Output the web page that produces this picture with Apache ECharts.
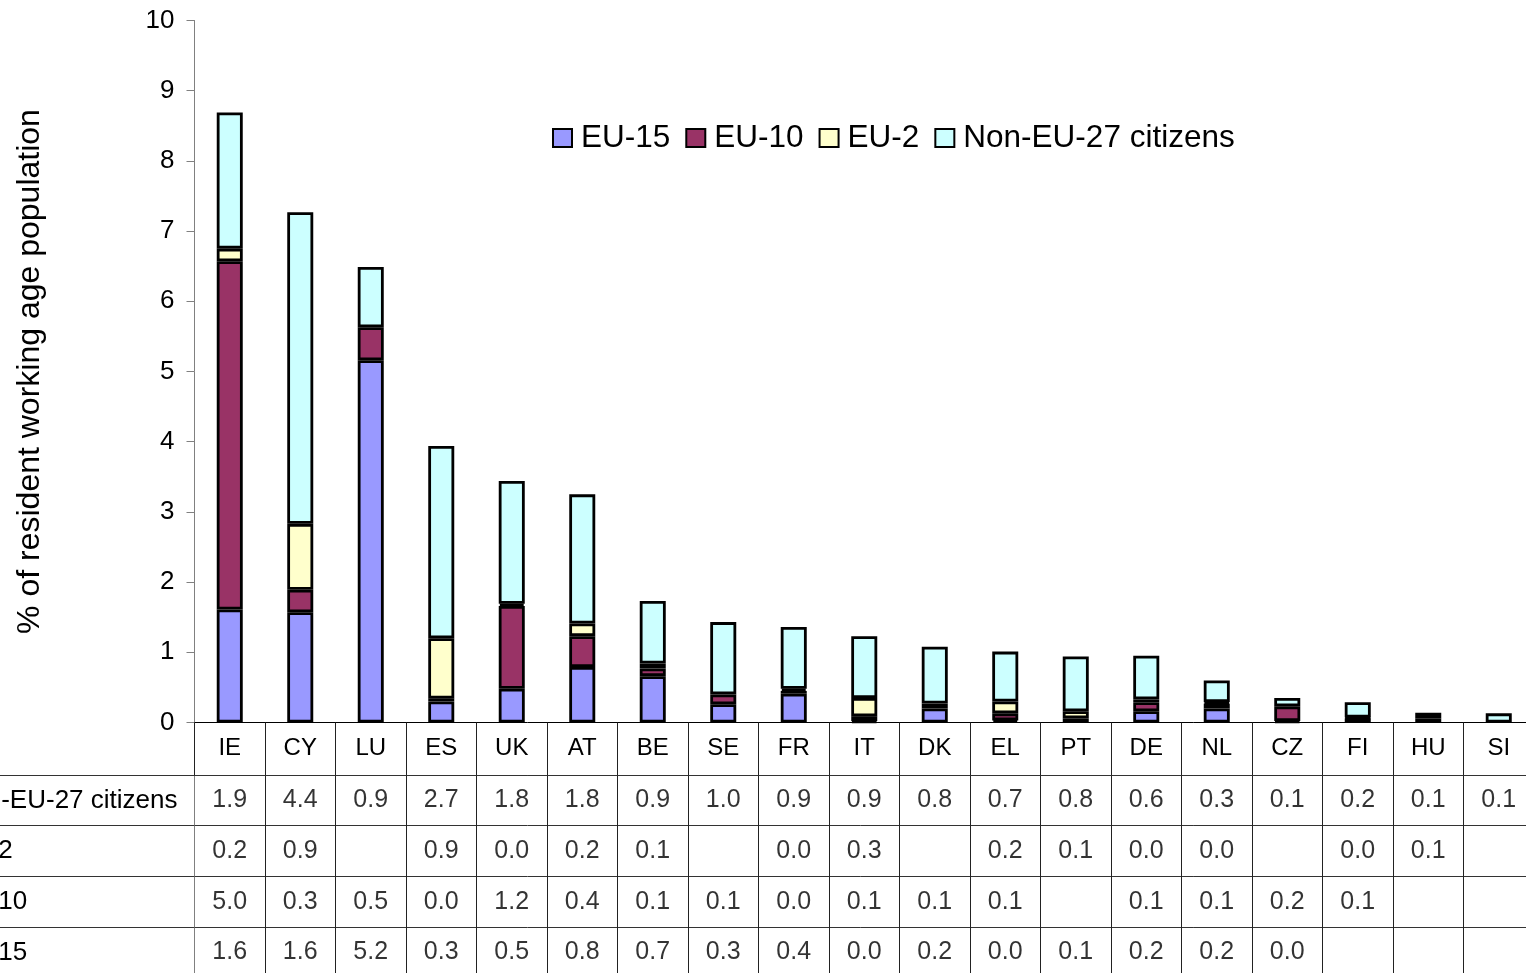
<!DOCTYPE html>
<html>
<head>
<meta charset="utf-8">
<script src="https://cdn.jsdelivr.net/npm/echarts@6/dist/echarts.min.js"></script>
<style>
html,body{margin:0;padding:0;background:#fff;}
#c{width:1526px;height:973px;}
</style>
</head>
<body>
<div id="c"></div>
<script>
// ---- data ----
const categories = ['IE','CY','LU','ES','UK','AT','BE','SE','FR','IT','DK','EL','PT','DE','NL','CZ','FI','HU','SI'];
const eu15  = [1.61,1.57,5.16,0.30,0.48,0.79,0.66,0.26,0.41,0.02,0.20,0.03,0.06,0.16,0.20,0.02,null,null,null];
const eu10  = [4.96,0.32,0.47,0.04,1.18,0.44,0.11,0.14,0.04,0.07,0.07,0.10,null,0.13,0.07,0.21,0.06,null,null];
const eu2   = [0.18,0.94,null,0.86,0.03,0.18,0.07,null,0.03,0.26,null,0.17,0.10,0.04,0.02,null,0.01,0.06,null];
const nonEu = [1.94,4.44,0.86,2.74,1.75,1.84,0.89,1.03,0.88,0.88,0.81,0.71,0.78,0.62,0.31,0.12,0.22,0.08,0.13];
const seriesNames = ['EU-15','EU-10','EU-2','Non-EU-27 citizens'];
const tableRowNames = ['Non-EU-27 citizens','EU-2','EU-10','EU-15'];
const yTicks = {min:0, max:10, interval:1};

// ---- build ----
const FONT = '"Liberation Sans", Arial, sans-serif';
const colors = ['#9999FF','#993366','#FFFFCC','#CCFFFF'];
const seriesData = [eu15, eu10, eu2, nonEu];
const tableData = [nonEu, eu2, eu10, eu15];

const chart = echarts.init(document.getElementById('c'), null, {renderer:'canvas'});

const barSeries = seriesNames.map((n, k) => ({
  name: n,
  type: 'bar',
  stack: 'total',
  xAxisIndex: 0,
  yAxisIndex: 0,
  barWidth: 26,
  data: seriesData[k],
  itemStyle: {color: colors[k], borderColor: '#000', borderWidth: 2.8},
  emphasis: {disabled: true}
}));

const tableSeries = tableRowNames.map((n, r) => ({
  name: 'table-' + n,
  type: 'scatter',
  xAxisIndex: 1,
  yAxisIndex: 1,
  symbolSize: 1,
  silent: true,
  itemStyle: {color: 'rgba(0,0,0,0)'},
  data: tableData[r].map((v, i) => v == null ? null : [i, r, v]).filter(d => d),
  label: {
    show: true,
    position: 'inside',
    color: '#000',
    fontSize: 25,
    fontFamily: FONT,
    formatter: p => p.value[2].toFixed(1)
  }
}));

const option = {
  animation: false,
  textStyle: {fontFamily: FONT},
  legend: {
    data: seriesNames,
    left: 547,
    top: 117,
    icon: 'rect',
    itemWidth: 19,
    itemHeight: 18,
    itemGap: 15,
    selectedMode: false,
    itemStyle: {borderColor: '#000', borderWidth: 2},
    textStyle: {fontSize: 31.5, color: '#000', fontFamily: FONT, padding: [0, 0, 0, 4]}
  },
  grid: [
    {left: 194.5, right: -8, top: 20.5, height: 702, outerBoundsMode: 'none', containLabel: false},
    {left: 194.5, right: -8, top: 775, height: 202.7, outerBoundsMode: 'none', containLabel: false}
  ],
  xAxis: [
    {
      type: 'category', gridIndex: 0, data: categories,
      axisLine: {lineStyle: {color: '#000', width: 1}},
      axisTick: {show: true, length: 53, lineStyle: {color: '#222'}},
      axisLabel: {fontSize: 24, color: '#000', margin: 14, interval: 0, fontFamily: FONT}
    },
    {
      type: 'category', gridIndex: 1, data: categories, position: 'top',
      axisLine: {show: true, lineStyle: {color: '#333'}},
      axisTick: {show: false},
      axisLabel: {show: false},
      splitLine: {show: true, interval: 0, lineStyle: {color: '#222'}}
    }
  ],
  yAxis: [
    {
      type: 'value', gridIndex: 0, min: yTicks.min, max: yTicks.max, interval: yTicks.interval,
      name: '% of resident working age population',
      nameLocation: 'middle', nameGap: 148,
      nameTextStyle: {fontSize: 32, color: '#000', fontFamily: FONT},
      axisLine: {show: true, lineStyle: {color: '#808080'}},
      axisTick: {show: true, length: 8, lineStyle: {color: '#808080'}},
      axisLabel: {fontSize: 26, color: '#000', margin: 20, fontFamily: FONT},
      splitLine: {show: false}
    },
    {
      type: 'category', gridIndex: 1, data: tableRowNames, inverse: true,
      axisLine: {show: true, lineStyle: {color: '#808080'}},
      axisTick: {show: true, length: 195, interval: 0, lineStyle: {color: '#333'}},
      axisLabel: {fontSize: 26, color: '#000', align: 'left', margin: 241, interval: 0, fontFamily: FONT},
      splitLine: {show: true, interval: 0, lineStyle: {color: '#333'}}
    }
  ],
  series: barSeries.concat(tableSeries)
};

chart.setOption(option);
</script>
</body>
</html>
